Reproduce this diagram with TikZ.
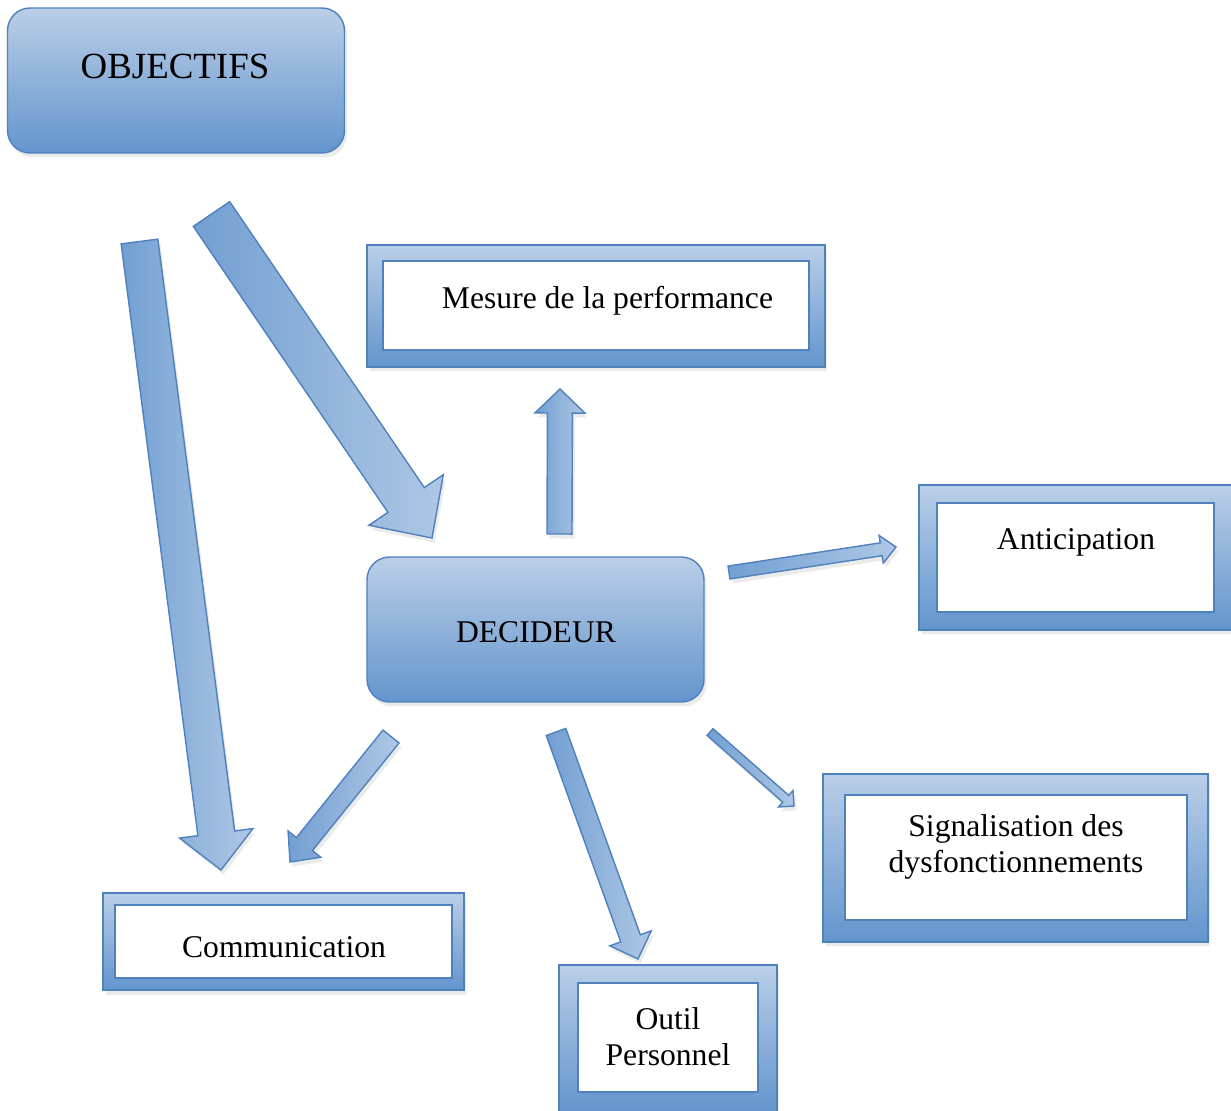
\documentclass[tikz,border=0pt]{standalone}
\usepackage{fontspec}
\setmainfont{Liberation Serif}
\usetikzlibrary{calc,shadows}
\definecolor{edge}{RGB}{79,129,189}
\definecolor{hi}{RGB}{186,206,231}
\definecolor{lo}{RGB}{99,149,205}
\definecolor{shl}{RGB}{174,199,229}
\definecolor{shd}{RGB}{114,159,210}
\tikzset{
  shad/.style={drop shadow={opacity=0.16,shadow xshift=0.5mm,shadow yshift=-0.9mm}},
  pill/.style={draw=edge,line width=0.8pt,rounded corners=0.45cm,top color=hi,
    bottom color=lo,inner sep=0pt,outer sep=0pt,minimum width=6.74cm,
    minimum height=2.9cm,shad},
  frame/.style={draw=edge,line width=0.8pt,top color=hi,bottom color=lo,
    inner sep=0pt,outer sep=0pt,shad},
  pane/.style={draw=edge,line width=1.2pt,fill=white,inner sep=0pt,outer sep=0pt},
  lbl/.style={anchor=base,font=\fontsize{18}{20.5}\selectfont,align=center,
    inner sep=0pt},
  body/.style={draw=edge,line width=0.8pt,left color=shd,right color=shl,shad},
}
% block arrow: tail, tip, half shaft, half head, head length (px)
\newcommand\blockarr[5]{%
  \path ($(#2)!#5*0.02cm!(#1)$) coordinate (hb);
  \draw[body] ($(#1)!#3*0.02cm!90:(#2)$) -- ($(hb)!#3*0.02cm!-90:(#1)$)
    -- ($(hb)!#4*0.02cm!-90:(#1)$) -- (#2) -- ($(hb)!#4*0.02cm!90:(#1)$)
    -- ($(hb)!#3*0.02cm!90:(#1)$) -- ($(#1)!#3*0.02cm!-90:(#2)$) -- cycle;}

\begin{document}
\begin{tikzpicture}[x=0.02cm,y=-0.02cm]
  \useasboundingbox (0,0) rectangle (1231,1110);

  \node[pill] (obj) at (176,80.5) {};
  \node[lbl,font=\fontsize{21}{25}\selectfont] (objT) at (175,78) {OBJECTIFS};
  \node[pill] (dec) at (535.5,629.5) {};
  \node[lbl] (decT) at (536,642) {DECIDEUR};

  \node[frame,minimum width=9.16cm,minimum height=2.44cm] (mesF) at (596,306) {};
  \node[pane,minimum width=8.52cm,minimum height=1.78cm] (mes) at (596,305.5) {};
  \node[lbl] (mesT) at (607.5,308) {Mesure de la performance};

  \node[frame,minimum width=6.28cm,minimum height=2.9cm] (antF) at (1076,557.5) {};
  \node[pane,minimum width=5.54cm,minimum height=2.18cm] (ant) at (1075.5,557.5) {};
  \node[lbl] (antT) at (1076,549) {Anticipation};

  \node[frame,minimum width=7.7cm,minimum height=3.36cm] (sigF) at (1015.5,858) {};
  \node[pane,minimum width=6.84cm,minimum height=2.5cm] (sig) at (1016,857.5) {};
  \node[lbl] (sigT) at (1016,872) {Signalisation des\\dysfonctionnements};

  \node[frame,minimum width=7.22cm,minimum height=1.94cm] (comF) at (283.5,941.5) {};
  \node[pane,minimum width=6.74cm,minimum height=1.46cm] (com) at (283.5,941.5) {};
  \node[lbl] (comT) at (284,957) {Communication};

  \node[frame,minimum width=4.36cm,minimum height=2.94cm] (outF) at (668,1038.5) {};
  \node[pane,minimum width=3.6cm,minimum height=2.18cm] (out) at (668,1037.5) {};
  \node[lbl] (outT) at (668,1065) {Outil\\Personnel};

  \coordinate (od0) at (211.5,214);  \coordinate (od1) at (432,538);
  \coordinate (oc0) at (139.5,241.5); \coordinate (oc1) at (221,870);
  \coordinate (dm0) at (559.5,534);  \coordinate (dm1) at (560,389);
  \coordinate (da0) at (729,572.5);  \coordinate (da1) at (896,547);
  \coordinate (dc0) at (391,736.5);  \coordinate (dc1) at (290,862);
  \coordinate (do0) at (556,732);    \coordinate (do1) at (638,959);
  \coordinate (ds0) at (710,732);    \coordinate (ds1) at (794,806);

  \blockarr{od0}{od1}{22}{45}{46}
  \blockarr{oc0}{oc1}{18.5}{37}{37}
  \blockarr{dm0}{dm1}{12.5}{25}{24}
  \blockarr{da0}{da1}{6.5}{14}{15}
  \blockarr{dc0}{dc1}{10.3}{21}{23}
  \blockarr{do0}{do1}{10.4}{22}{22}
  \blockarr{ds0}{ds1}{4.5}{11}{11}
\end{tikzpicture}
\end{document}
